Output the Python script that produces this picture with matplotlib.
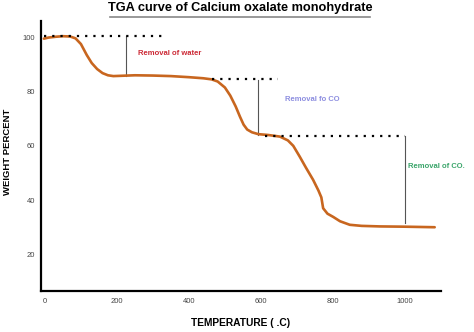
import matplotlib
matplotlib.use("Agg")
import matplotlib.pyplot as plt
from matplotlib.lines import Line2D

plt.rcParams["font.family"] = ["Liberation Sans", "DejaVu Sans"]

# ---------- data ----------
temp = [-3, 10, 30, 50, 70, 85, 100, 116, 130, 145, 160, 175, 190, 210, 250,
        300, 350, 400, 440, 463, 480, 500, 515, 530, 542, 552, 562, 575, 593,
        620, 653, 675, 690, 708, 725, 745, 760, 768, 773, 785, 801, 820, 847,
        880, 931, 1000, 1083]
weight = [99.5, 99.9, 100.2, 100.4, 100.3, 99.6, 97.5, 93.5, 90.5, 88.3, 86.8,
          86.0, 85.7, 85.8, 86.0, 85.9, 85.7, 85.3, 84.9, 84.5, 83.7, 81.5,
          78.5, 74.5, 70.7, 67.8, 66.0, 65.0, 64.3, 64.0, 63.4, 62.0, 60.0,
          56.0, 52.0, 47.5, 43.5, 41.0, 37.0, 35.0, 33.8, 32.2, 30.9, 30.5,
          30.3, 30.2, 30.0]

# dotted plateau levels: (start T, end T, weight)
levels = [(-3, 325, 100.4), (464, 647, 84.5), (611, 1000, 63.7)]
# vertical mass-loss markers: (T, top weight, bottom weight)
drops = [(225, 100.4, 85.8), (592, 84.3, 64.1), (1000, 63.7, 31.6)]
# annotations: (T, weight, text, color)
notes = [(258, 94.1, "Removal of water", "#cc2a36"),
         (667, 77.2, "Removal fo CO", "#8d8ee0"),
         (1008, 52.3, "Removal of CO.", "#3aa56a")]

xticks = [0, 200, 400, 600, 800, 1000]
yticks = [20, 40, 60, 80, 100]

fig = plt.figure(figsize=(4.74, 3.32), dpi=100)
ax = fig.add_axes([0.0865, 0.1235, 0.8435, 0.8132])

ax.plot(temp, weight, color="#c8661f", lw=1.9, solid_capstyle="round", zorder=3)

for t0, t1, w in levels:
    ax.plot([t0, t1], [w, w], color="black", lw=1.6,
            linestyle=(0, (1, 2.7)), zorder=4)

for t, w0, w1 in drops:
    ax.plot([t, t], [w0, w1], color="#555555", lw=0.8, zorder=2)

for t, w, txt, c in notes:
    ax.text(t, w, txt, color=c, fontsize=5.5, fontweight="bold",
            ha="left", va="center")

ax.set_xlim(-11, 1100)
ax.set_ylim(6.5, 106)
ax.set_xticks(xticks)
ax.set_yticks(yticks)
ax.tick_params(length=0, labelsize=5.5, labelcolor="#444444")
ax.tick_params(axis="x", pad=5)
ax.tick_params(axis="y", pad=4)

for side in ("top", "right"):
    ax.spines[side].set_visible(False)
for side in ("left", "bottom"):
    ax.spines[side].set_linewidth(1.6)
    ax.spines[side].set_color("black")

# ---------- titles ----------
fig.text(0.508, 0.975, "TGA curve of Calcium oxalate monohydrate",
         ha="center", va="center", fontsize=9.2, fontweight="bold")
fig.add_artist(Line2D([110 / 474, 370 / 474], [1 - 17 / 332, 1 - 17 / 332],
                      color="#888888", lw=1.2))
fig.text(0.508, 1 - 323 / 332, "TEMPERATURE ( .C)", ha="center", va="center",
         fontsize=7.4, fontweight="bold")
fig.text(8 / 474, 1 - 152 / 332, "WEIGHT PERCENT", ha="center", va="center",
         rotation=90, fontsize=6.8, fontweight="bold")

fig.savefig("out.png", dpi=100, facecolor="white")
